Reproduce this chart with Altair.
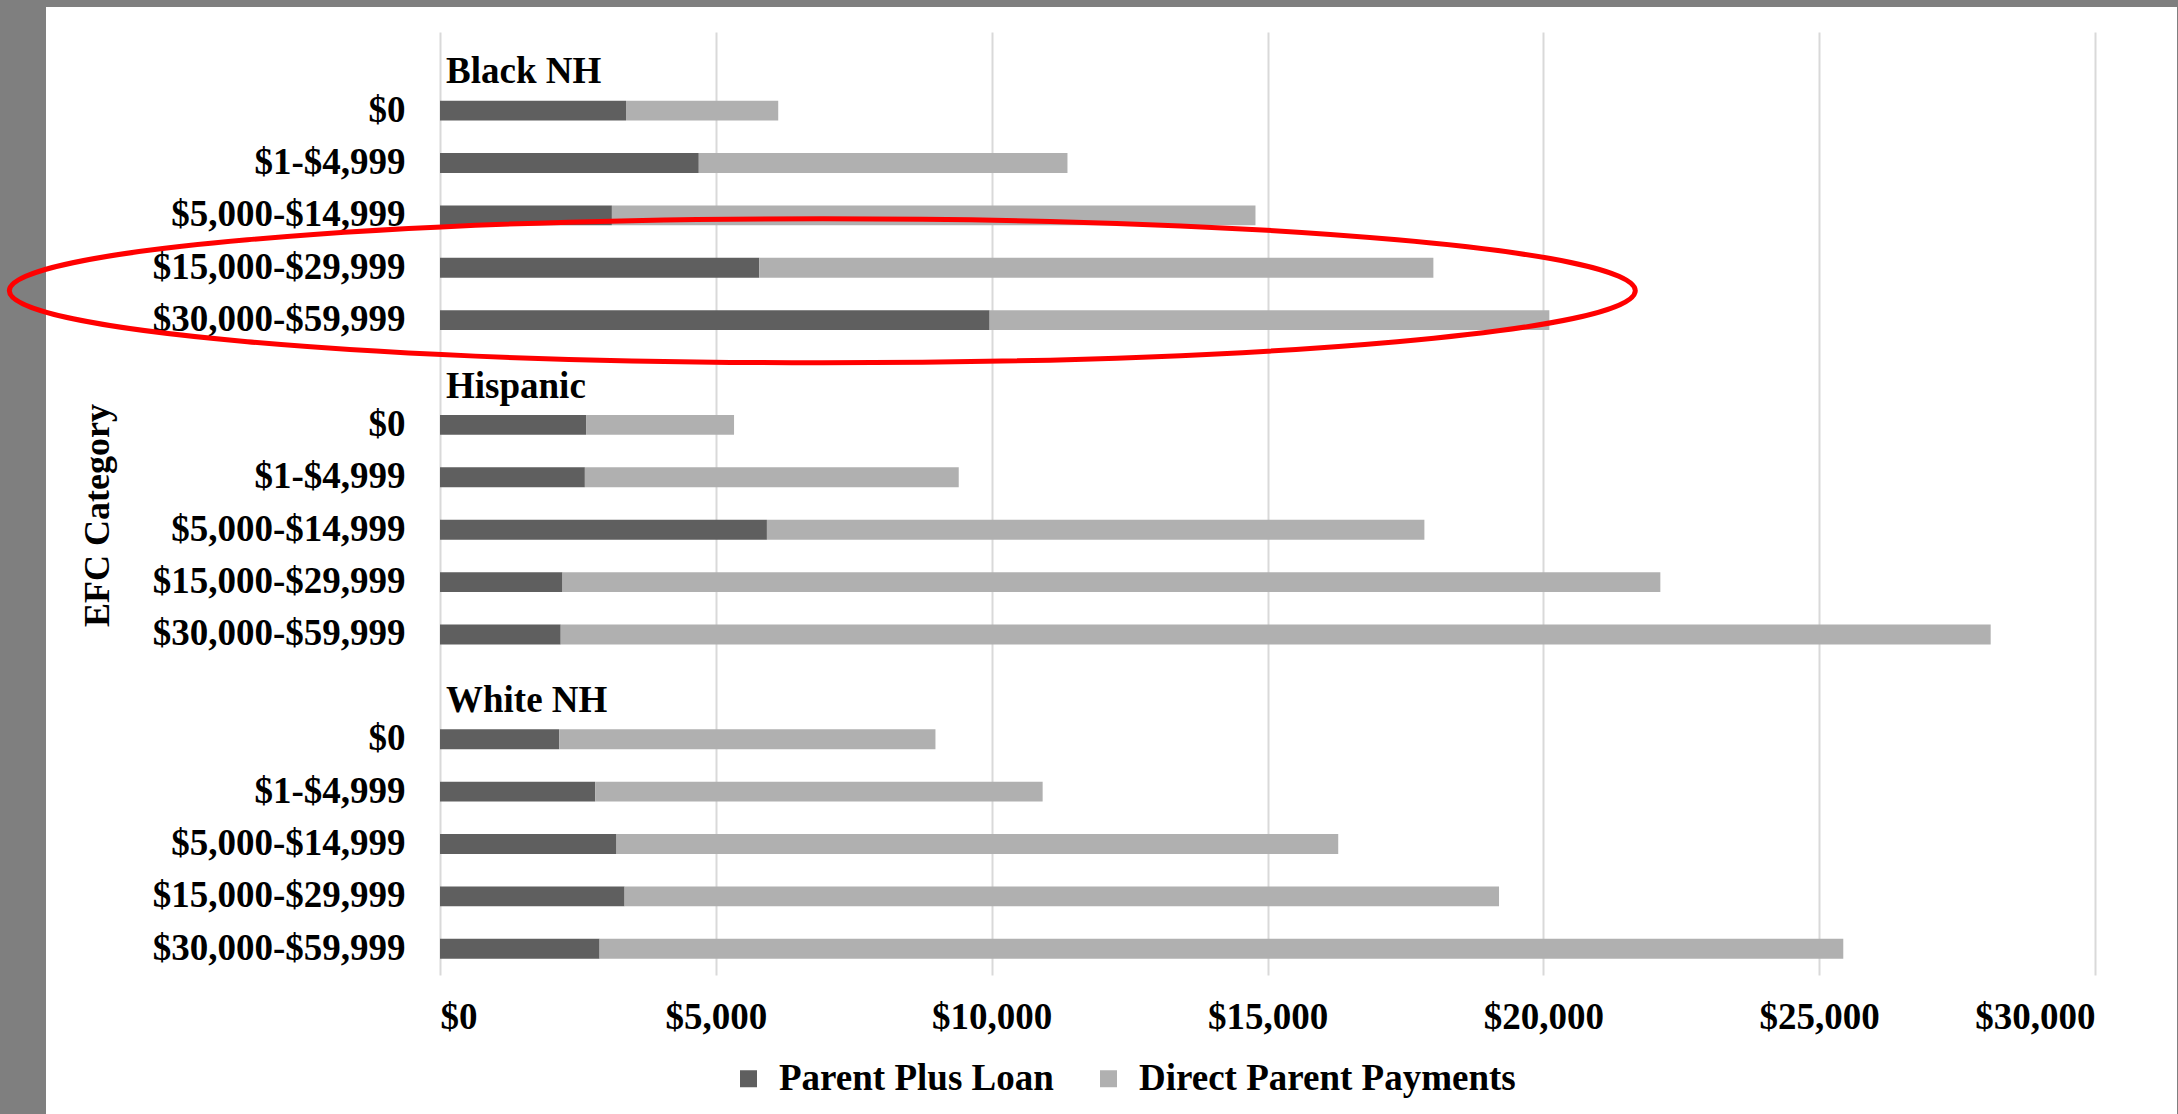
import altair as alt
import pandas as pd

# ---- data ----
groups = ["Black NH", "Hispanic", "White NH"]
efc_labels = ["$0\u00a0", "$1-$4,999", "$5,000-$14,999", "$15,000-$29,999", "$30,000-$59,999"]
series = ["Parent Plus Loan", "Direct Parent Payments"]
parent_plus = [3372, 4691, 3116, 5786, 9963,
               2648, 2626, 5926, 2221, 2188,
               2160, 2812, 3200, 3346, 2893]
direct_payments = [2759, 6683, 11666, 12221, 10146,
                   2682, 6777, 11918, 19900, 25921,
                   6821, 8112, 13082, 15851, 22544]
x_ticks = [0, 5000, 10000, 15000, 20000, 25000, 30000]
colors = ["#5f5f5f", "#b0b0b0"]

# annotation ellipse (around Black NH $15,000+ rows)
ellipse_center_value = 6930
ellipse_row = "Black NH|$15,000-$29,999"

FONT = "Liberation Serif"
LABEL_SIZE = 37

# ---- build tables ----
y_domain = []
for g in groups:
    y_domain.append(f"{g}|")
    for e in efc_labels:
        y_domain.append(f"{g}|{e}")

rows = []
i = 0
for g in groups:
    for e in efc_labels:
        key = f"{g}|{e}"
        rows.append({"key": key, "series": series[0], "value": parent_plus[i], "order": 0})
        rows.append({"key": key, "series": series[1], "value": direct_payments[i], "order": 1})
        i += 1
bars_df = pd.DataFrame(rows)
headers_df = pd.DataFrame({"key": [f"{g}|" for g in groups], "label": groups, "x": [0, 0, 0]})
ellipse_df = pd.DataFrame({"key": [ellipse_row], "x": [ellipse_center_value]})
frame_df = pd.DataFrame({"a": [0]})

y_scale = alt.Scale(domain=y_domain, paddingInner=0.62, paddingOuter=0.31)
x_scale = alt.Scale(domain=[0, 30000], nice=False)

y_axis = alt.Axis(
    title="EFC Category",
    labelExpr="split(datum.value, '|')[1]",
    labelFont=FONT, labelFontSize=LABEL_SIZE, labelFontWeight="bold", labelColor="black",
    labelLimit=800, labelPadding=35,
    ticks=False, domain=False, grid=False,
    titleFont=FONT, titleFontSize=36, titleFontWeight="bold", titleColor="black",
    titleAngle=270, titleAlign="center", titleBaseline="middle",
    titleX=-343, titleY=483,
)
x_axis = alt.Axis(
    title=None, values=x_ticks, format="$,.0f",
    labelFont=FONT, labelFontSize=LABEL_SIZE, labelFontWeight="bold", labelColor="black",
    labelPadding=24, ticks=False, domain=False,
    grid=True, gridColor="#d9d9d9", gridWidth=2,
)

# grey picture frame (left strip, top strip, right hairline)
frame_color = "#7f7f7f"
left_strip = alt.Chart(frame_df).mark_rect(color=frame_color).encode(
    x=alt.value(-440), x2=alt.value(-394), y=alt.value(-32), y2=alt.value(1082)
)
top_strip = alt.Chart(frame_df).mark_rect(color=frame_color).encode(
    x=alt.value(-440), x2=alt.value(1738), y=alt.value(-32), y2=alt.value(-25)
)
right_line = alt.Chart(frame_df).mark_rect(color=frame_color).encode(
    x=alt.value(1737), x2=alt.value(1738), y=alt.value(-32), y2=alt.value(1082)
)

bars = alt.Chart(bars_df).mark_bar().encode(
    y=alt.Y("key:N", scale=y_scale, axis=y_axis, sort=y_domain),
    x=alt.X("value:Q", stack="zero", scale=x_scale, axis=x_axis),
    color=alt.Color(
        "series:N",
        scale=alt.Scale(domain=series, range=colors),
        legend=alt.Legend(
            title=None, orient="none", direction="horizontal",
            legendX=290, legendY=1028,
            symbolType="square", symbolSize=289, symbolStrokeWidth=0, symbolOpacity=1,
            labelFont=FONT, labelFontSize=LABEL_SIZE, labelFontWeight="bold", labelColor="black",
            labelLimit=800, labelOffset=12, columnPadding=36,
        ),
    ),
    order=alt.Order("order:Q"),
)

headers = alt.Chart(headers_df).mark_text(
    align="left", baseline="middle", dx=6, dy=14,
    font=FONT, fontSize=LABEL_SIZE, fontWeight="bold", color="black",
).encode(
    y=alt.Y("key:N", scale=y_scale, sort=y_domain),
    x=alt.X("x:Q", scale=x_scale),
    text="label:N",
)

ellipse_path = "M-1,0A1,0.0886,0,1,1,1,0A1,0.0886,0,1,1,-1,0Z"
ellipse = alt.Chart(ellipse_df).mark_point(
    shape=ellipse_path, size=2643876, filled=False,
    stroke="#ff0000", strokeWidth=5, opacity=1, yOffset=23,
).encode(
    y=alt.Y("key:N", scale=y_scale, sort=y_domain),
    x=alt.X("x:Q", scale=x_scale),
)

chart = alt.layer(left_strip, top_strip, right_line, bars, headers, ellipse).properties(
    width=1655, height=943,
    autosize=alt.AutoSizeParams(type="none"),
    padding={"left": 440, "top": 32, "right": 83, "bottom": 139},
    background="white",
).configure_view(stroke=None)

chart.save("out.html", embed_options={"renderer": "svg", "actions": False})
